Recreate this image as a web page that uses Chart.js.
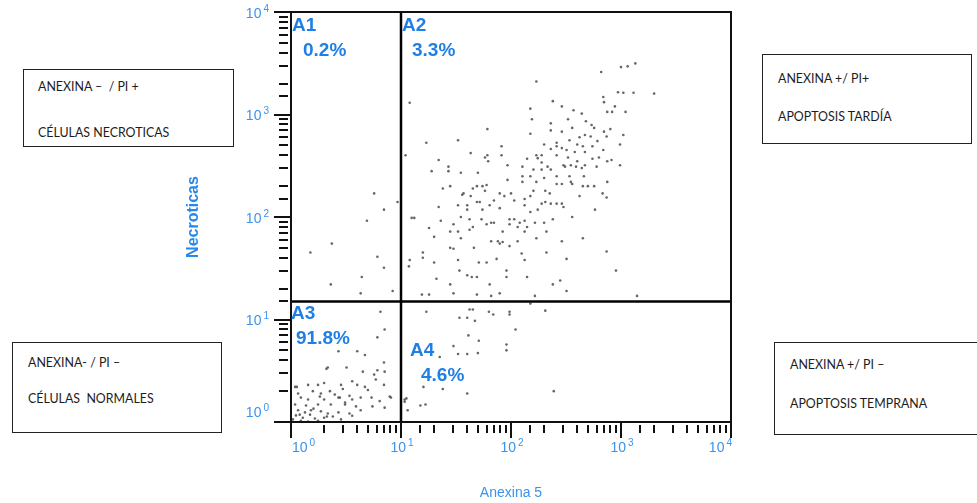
<!DOCTYPE html>
<html>
<head>
<meta charset="utf-8">
<script src="https://cdn.jsdelivr.net/npm/chart.js@4.4.1/dist/chart.umd.min.js"></script>
<style>
  html, body { margin: 0; padding: 0; background: #fff; }
  #wrap { position: relative; width: 977px; height: 503px; overflow: hidden; }
  #plot { position: absolute; left: 0; top: 0; }
  .box { position: absolute; box-sizing: border-box; border: 1px solid #222; background: #fff;
         font-family: Lato, 'Open Sans', sans-serif; font-size: 12.4px; color: #1c1c1c; }
  .box span { position: absolute; white-space: pre; transform: translateY(-50%); }
</style>
</head>
<body>
<div id="wrap">
  <canvas id="plot" width="977" height="503" style="width:977px;height:503px"></canvas>

  <div class="box" style="left:23px;top:69px;width:211px;height:78px">
    <span style="left:14px;top:16px">ANEXINA –  / PI +</span>
    <span style="left:14px;top:62px">CÉLULAS NECROTICAS</span>
  </div>
  <div class="box" style="left:762px;top:54px;width:210px;height:90px">
    <span style="left:15px;top:23px">ANEXINA +/ PI+</span>
    <span style="left:15px;top:61px">APOPTOSIS TARDÍA</span>
  </div>
  <div class="box" style="left:12px;top:342px;width:210px;height:91px">
    <span style="left:15px;top:19px">ANEXINA- / PI –</span>
    <span style="left:15px;top:55px">CÉLULAS  NORMALES</span>
  </div>
  <div class="box" style="left:774px;top:342px;width:210px;height:93px">
    <span style="left:15px;top:21px">ANEXINA +/ PI –</span>
    <span style="left:15px;top:60px">APOPTOSIS TEMPRANA</span>
  </div>
</div>

<script>
// decade tick labels (10 raised to these) for both log axes
const decadeBase = '10';
const decadeExponents = ['0', '1', '2', '3', '4'];
const xTitle = 'Anexina 5';
const yTitle = 'Necroticas';

// quadrant gates
const gateX = 10;
const gateY = 15;
const quadNames = ['A1', 'A2', 'A3', 'A4'];
const quadPercents = ['0.2%', '3.3%', '91.8%', '4.6%'];

// A1: Anexina - / PI +
const a1X = [5.7, 9.3, 7.0, 4.9, 2.35, 1.5, 6.1, 7.0, 4.4, 2.3, 4.3, 8.4];
const a1Y = [170, 140, 118, 92, 55, 45, 41, 32, 26, 22, 18, 19];

// A2: Anexina + / PI +
const a2X = [
  660, 1000, 1150, 1350, 170, 2000, 690, 940, 1050, 1300,
  700, 880, 830, 750, 1100, 12, 240, 150, 290, 370,
  440, 330, 480, 540, 570, 155, 230, 61, 360, 800,
  470, 230, 290, 700, 1050, 150, 420, 530, 740, 33,
  17, 82, 200, 260, 340, 400, 450, 550, 610, 980,
  230, 290, 320, 380, 470, 690, 11, 43, 82, 170,
  190, 260, 330, 550, 22, 58, 140, 175, 400, 630,
  750, 820, 27, 62, 93, 127, 160, 190, 215, 230,
  300, 350, 390, 470, 600, 980, 19, 27, 35, 50,
  150, 260, 200, 24, 28, 49, 55, 93, 127, 260,
  290, 350, 450, 500, 570, 750, 45, 58, 36, 79,
  100, 160, 205, 420, 680, 740, 87, 33, 40, 49,
  52, 64, 70, 107, 133, 133, 190, 205, 230, 290,
  300, 360, 580, 22, 40, 55, 79, 150, 175, 12.5,
  13.2, 23, 35, 42, 54, 66, 97, 107, 120, 133,
  165, 200, 240, 18, 28, 30, 33, 42, 45, 60,
  70, 84, 97, 115, 133, 140, 210, 450, 20, 35,
  66, 76, 84, 97, 115, 170, 290, 28, 30, 46,
  79, 125, 210, 15.8, 15.8, 12, 20, 33, 51, 60,
  74, 133, 320, 740, 900, 11.8, 34, 40, 44, 49,
  91, 91, 140, 21, 28, 64, 240, 280, 320, 15.5,
  18, 30, 49, 66, 79, 165, 1400, 43, 37, 61,
  60, 260, 190, 310, 440, 340, 460, 127, 260, 360,
  170, 150, 225
];
const a2Y = [
  2600, 2900, 2950, 3150, 2100, 1600, 1480, 1650, 1630, 1630,
  1320, 1200, 1060, 1060, 1060, 1300, 1350, 1140, 1200, 1100,
  1020, 900, 860, 790, 740, 900, 820, 720, 740, 720,
  630, 700, 680, 680, 630, 650, 600, 610, 610, 560,
  530, 490, 510, 530, 560, 510, 490, 490, 550, 510,
  460, 470, 450, 430, 430, 450, 400, 420, 400, 400,
  400, 400, 380, 370, 360, 380, 370, 375, 350, 380,
  350, 360, 310, 350, 320, 310, 290, 340, 310, 290,
  320, 320, 310, 320, 310, 320, 280, 280, 270, 270,
  250, 250, 240, 190, 200, 200, 200, 230, 220, 210,
  210, 220, 200, 200, 200, 220, 190, 180, 165, 170,
  170, 180, 180, 160, 170, 155, 160, 130, 130, 140,
  140, 130, 145, 145, 150, 130, 135, 140, 135, 135,
  125, 100, 118, 125, 118, 118, 122, 112, 118, 98,
  98, 92, 100, 95, 95, 88, 95, 95, 88, 92,
  88, 88, 95, 78, 72, 85, 72, 75, 80, 85,
  88, 72, 85, 80, 72, 80, 72, 62, 64, 62,
  58, 58, 57, 52, 58, 62, 58, 50, 49, 50,
  55, 44, 45, 45, 40, 38, 36, 38, 36, 36,
  39, 38, 39, 46, 30, 33, 30, 27, 26, 26,
  30, 26, 26, 25, 22, 22, 22, 24, 19, 17.5,
  17.5, 18, 17.5, 17, 18, 17, 17, 160, 170, 400,
  205, 490, 290, 310, 300, 250, 250, 250, 135, 210,
  220, 160, 170
];

// A3: Anexina - / PI -
const a3X = [
  6.5, 7.1, 6.1, 2.7, 4.7, 7.0, 2.1, 3.2, 4.5, 5.7, 6.1, 7.1, 5.9,
  1.09, 1.43, 1.76, 2.0, 2.85, 3.6, 4.0, 4.7, 7.0,
  1.16, 1.58, 1.87, 2.26, 2.5, 2.96, 3.4, 4.3, 5.4, 8.1,
  1.23, 1.43, 2.0, 2.7, 3.6,
  1.09, 1.37, 1.76, 2.3, 3.1, 3.9, 5.5, 7.1,
  1.16, 1.34, 1.52, 1.87, 2.16, 2.7, 3.4, 4.3,
  1.11, 1.28, 1.49, 1.65, 2.0, 2.4, 2.85,
  1.23, 1.43, 1.76, 1.04, 1.2, 4.0, 2.16,
  1.13, 1.83, 2.78, 3.1, 7.9, 2.12, 1.6, 5.0, 3.6, 6.4
];
const a3Y = [
  11.9, 8.0, 6.7, 4.9, 4.5, 3.8, 3.3, 3.4, 3.1, 2.9, 3.2, 3.1, 2.6,
  2.2, 2.3, 2.3, 2.4, 2.3, 2.5, 2.3, 2.2, 2.3,
  1.9, 2.0, 1.9, 2.0, 1.85, 2.1, 1.8, 1.73, 1.73, 1.73,
  1.73, 1.66, 1.66, 1.73, 1.66,
  1.48, 1.45, 1.48, 1.48, 1.48, 1.42, 1.42, 1.38,
  1.3, 1.24, 1.3, 1.27, 1.21, 1.24, 1.21, 1.3,
  1.16, 1.1, 1.18, 1.08, 1.1, 1.13, 1.06,
  1.03, 1.01, 1.03, 1.06, 1.18, 4.9, 3.4,
  2.2, 1.77, 1.73, 1.55, 1.77, 1.13, 1.35, 2.05, 1.15, 1.6
];

// A4: Anexina + / PI -
const a4X = [
  17, 42, 45, 63, 69, 97, 97, 205, 150, 34,
  40, 47, 110, 41, 51, 91, 91, 30, 33, 40,
  50, 22.5, 16, 40, 245, 10.8, 10.8, 16.7, 15, 11.5,
  24, 11.2
];
const a4Y = [
  11.9, 12.5, 12.5, 11.9, 11.2, 11.9, 11.2, 12.2, 14.3, 10.4,
  10.4, 9.7, 8.0, 7.0, 6.2, 5.7, 5.0, 5.5, 4.6, 4.6,
  4.7, 4.3, 2.2, 1.9, 2.0, 1.66, 1.58, 1.48, 1.45, 1.3,
  2.1, 1.7
];

const tickBlue = '#3a93ec';
const quadBlue = '#1f7fe4';
const labelFamily = '"Liberation Sans", Arial, sans-serif';

function toPoints(xs, ys) {
  const n = Math.min(xs.length, ys.length);
  const pts = [];
  for (let i = 0; i < n; i++) pts.push({ x: xs[i], y: ys[i] });
  return pts;
}

function isDecade(v) {
  const e = Math.log10(v);
  return Math.abs(e - Math.round(e)) < 1e-6;
}

function dotSet(label, xs, ys) {
  return {
    label: label,
    data: toPoints(xs, ys),
    showLine: false,
    pointRadius: 1.3,
    pointBackgroundColor: 'rgba(75,75,75,0.85)',
    pointBorderWidth: 0,
    order: 2
  };
}

function gateSet(label, pts) {
  return {
    label: label,
    data: pts,
    showLine: true,
    borderColor: '#000',
    borderWidth: 2.5,
    pointRadius: 0,
    order: 1
  };
}

// "10" with a raised exponent, anchored left / center / right at (x, y)
function drawDecade(ctx, value, x, y, align) {
  const exp = decadeExponents[Math.round(Math.log10(value))];
  ctx.font = '14px ' + labelFamily;
  const wb = ctx.measureText(decadeBase).width;
  ctx.font = '10px ' + labelFamily;
  const we = ctx.measureText(exp).width;
  const total = wb + 2 + we;
  let x0 = x;
  if (align === 'center') x0 = x - total / 2;
  if (align === 'right') x0 = x - total;
  ctx.textAlign = 'left';
  ctx.textBaseline = 'middle';
  ctx.font = '14px ' + labelFamily;
  ctx.fillText(decadeBase, x0, y);
  ctx.font = '10px ' + labelFamily;
  ctx.fillText(exp, x0 + wb + 2, y - 5);
}

// frame, log tick marks, decade labels and quadrant names
const cytoDecor = {
  id: 'cytoDecor',
  afterDraw(chart) {
    const ctx = chart.ctx;
    const { left, right, top, bottom } = chart.chartArea;
    const xs = chart.scales.x;
    const ys = chart.scales.y;
    ctx.save();
    ctx.strokeStyle = '#111';
    ctx.lineWidth = 2;
    ctx.strokeRect(left, top, right - left, bottom - top);

    xs.ticks.forEach(t => {
      const px = Math.round(xs.getPixelForValue(t.value));
      const major = isDecade(t.value);
      ctx.beginPath();
      ctx.moveTo(px, major ? bottom : bottom + 3);
      ctx.lineTo(px, major ? bottom + 16 : bottom + 11);
      ctx.stroke();
    });
    ys.ticks.forEach(t => {
      const py = Math.round(ys.getPixelForValue(t.value));
      const major = isDecade(t.value);
      ctx.beginPath();
      ctx.moveTo(major ? left - 17 : left - 12, py);
      ctx.lineTo(major ? left : left - 3, py);
      ctx.stroke();
    });

    ctx.fillStyle = tickBlue;
    const xMajors = xs.ticks.filter(t => isDecade(t.value));
    xMajors.forEach((t, i) => {
      const px = xs.getPixelForValue(t.value);
      const align = i === 0 ? 'left' : (i === xMajors.length - 1 ? 'right' : 'center');
      drawDecade(ctx, t.value, px + 1, bottom + 26, align);
    });
    ys.ticks.filter(t => isDecade(t.value)).forEach(t => {
      const py = ys.getPixelForValue(t.value);
      drawDecade(ctx, t.value, left - 22, Math.min(py + 2, bottom - 9), 'right');
    });

    const gx = xs.getPixelForValue(gateX);
    const gy = ys.getPixelForValue(gateY);
    const spots = [
      [left + 1, top + 14, left + 12, top + 39],
      [gx + 1, top + 14, gx + 11, top + 39],
      [left + 0, gy + 12, left + 5, gy + 37],
      [gx + 9, gy + 49, gx + 20, gy + 74]
    ];
    ctx.fillStyle = quadBlue;
    ctx.font = 'bold 19px ' + labelFamily;
    ctx.textAlign = 'left';
    ctx.textBaseline = 'middle';
    spots.forEach((s, i) => {
      ctx.fillText(quadNames[i], s[0], s[1]);
      ctx.fillText(quadPercents[i], s[2], s[3]);
    });
    ctx.restore();
  }
};

new Chart(document.getElementById('plot').getContext('2d'), {
  type: 'scatter',
  data: {
    datasets: [
      dotSet('A1', a1X, a1Y),
      dotSet('A2', a2X, a2Y),
      dotSet('A3', a3X, a3Y),
      dotSet('A4', a4X, a4Y),
      gateSet('gateX', [{ x: gateX, y: 1 }, { x: gateX, y: 10000 }]),
      gateSet('gateY', [{ x: 1, y: gateY }, { x: 10000, y: gateY }])
    ]
  },
  options: {
    responsive: false,
    animation: false,
    events: [],
    layout: { padding: { left: 180, top: 12, right: 246, bottom: 0 } },
    plugins: {
      legend: { display: false },
      tooltip: { enabled: false }
    },
    scales: {
      x: {
        type: 'logarithmic',
        min: 1,
        max: 10000,
        grid: { display: false, drawTicks: false },
        border: { display: false },
        ticks: { display: false, autoSkip: false },
        title: {
          display: true,
          text: xTitle,
          color: tickBlue,
          font: { family: labelFamily, size: 14 },
          padding: { top: 0, bottom: 1 }
        },
        afterFit: (scale) => {
          scale.height = 81;
          scale.paddingLeft = 0;
          scale.paddingRight = 0;
        }
      },
      y: {
        type: 'logarithmic',
        min: 1,
        max: 10000,
        grid: { display: false, drawTicks: false },
        border: { display: false },
        ticks: { display: false, autoSkip: false },
        title: {
          display: true,
          text: yTitle,
          color: '#2a88ea',
          font: { family: labelFamily, size: 16, weight: 700 },
          padding: { top: 4, bottom: 0 }
        },
        afterFit: (scale) => {
          scale.width = 111;
          scale.paddingTop = 0;
          scale.paddingBottom = 0;
        }
      }
    }
  },
  plugins: [cytoDecor]
});
</script>
</body>
</html>
